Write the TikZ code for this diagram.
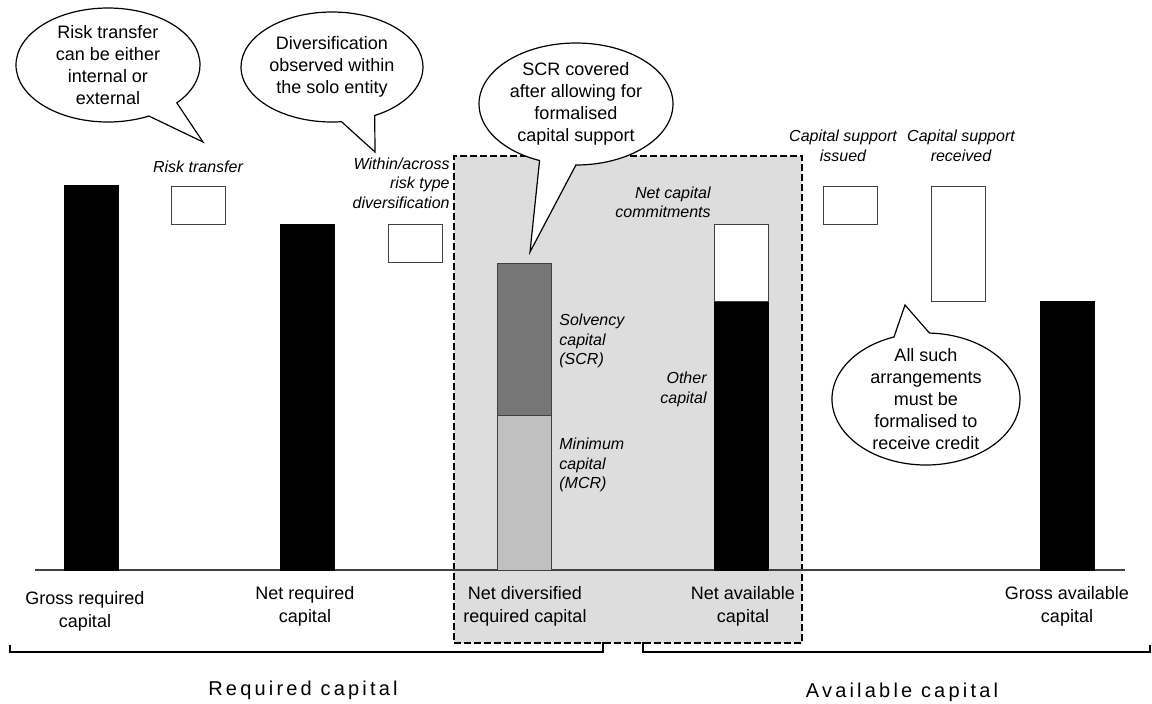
\documentclass[tikz,border=0pt]{standalone}
\usepackage{fontspec}
\setmainfont{Liberation Sans}
\newfontfamily\spacedsans[LetterSpace=16]{Liberation Sans}
\usetikzlibrary{shapes.callouts}
\definecolor{boxgrey}{HTML}{DDDDDD}
\definecolor{scrgrey}{HTML}{777777}
\definecolor{mcrgrey}{HTML}{C0C0C0}
\definecolor{edgegrey}{HTML}{404040}
\tikzset{
  bar/.style={minimum width=27pt, inner sep=0pt, outer sep=0pt, anchor=south, line width=0.5pt},
  fullbar/.style={bar, fill=black, draw=black},
  emptybar/.style={bar, fill=white, draw=edgegrey},
  note/.style={font=\fontsize{8}{9.75}\selectfont\itshape, inner sep=0pt},
  caption/.style={font=\fontsize{9}{11.5}\selectfont, align=center, inner sep=0pt},
  bubble/.style={ellipse callout, draw, fill=white, line width=0.6pt, align=center,
    inner xsep=0pt, inner ysep=-3pt, callout pointer arc=22, font=\fontsize{9}{11}\selectfont}
}
\begin{document}
\begin{tikzpicture}[x=0.5pt, y=-0.5pt]
\useasboundingbox (0,0) rectangle (1152,703);
\node[fill=boxgrey, draw, line width=1pt, dash pattern=on 3.5pt off 1.5pt,
  minimum width=174pt, minimum height=243.5pt, anchor=north west] (netbox) at (453,155) {};
\coordinate (axisL) at (35,570);
\coordinate (axisR) at (1125,570);
\draw[edgegrey, line width=0.6pt] (axisL) -- (axisR);

\node[fullbar, minimum height=192.5pt] (grossreq) at (91,570) {};
\node[emptybar, minimum height=19pt] (risktr) at (198.5,224) {};
\node[fullbar, minimum height=173pt] (netreq) at (307,570) {};
\node[emptybar, minimum height=19pt] (withindiv) at (415.5,262) {};
\node[bar, fill=mcrgrey, draw=edgegrey, minimum height=77.5pt] (mcr) at (524.5,570) {};
\node[bar, fill=scrgrey, draw=edgegrey, minimum height=76pt] (scr) at (mcr.north) {};
\node[fullbar, minimum height=134.5pt] (othercap) at (741.5,570) {};
\node[emptybar, minimum height=38.5pt] (commit) at (othercap.north) {};
\node[emptybar, minimum height=19pt] (issued) at (850,224) {};
\node[emptybar, minimum height=57.5pt] (received) at (958.5,301) {};
\node[fullbar, minimum height=134.5pt] (grossavl) at (1067,570) {};

\node[note, align=center] (risktrtxt) at (198,167) {Risk transfer};
\node[note, align=right, anchor=east] (divtxt) at (450,183) {Within/across\\risk type\\diversification};
\node[note, align=right, anchor=east] (committxt) at (711,202.5) {Net capital\\commitments};
\node[note, align=left, anchor=west] (scrtxt) at (559,341) {Solvency\\capital\\(SCR)};
\node[note, align=left, anchor=west] (mcrtxt) at (559,465) {Minimum\\capital\\(MCR)};
\node[note, align=right, anchor=east] (othertxt) at (707,389.5) {Other\\capital};
\node[note, align=center] (issuedtxt) at (843,146) {Capital support\\issued};
\node[note, align=center] (receivedtxt) at (961,146) {Capital support\\received};

\node[caption] (grossreqcap) at (85,611) {Gross required\\capital};
\node[caption] (netreqcap) at (305,606) {Net required\\capital};
\node[caption] (netdivcap) at (525,606) {Net diversified\\required capital};
\node[caption] (netavlcap) at (743,606) {Net available\\capital};
\node[caption] (grossavlcap) at (1067,606) {Gross available\\capital};

\coordinate (reqL) at (10,645);
\coordinate (reqR) at (603,642);
\coordinate (avlL) at (643,642);
\coordinate (avlR) at (1150,645);
\draw[line width=1pt] (reqL) -- ++(0,7) -| (reqR);
\draw[line width=1pt] (avlL) -- ++(0,10) -| (avlR);
\node[font=\spacedsans\fontsize{10}{12}\selectfont] (reqgroup) at (303,690) {Required capital};
\node[font=\spacedsans\fontsize{10}{12}\selectfont] (avlgroup) at (902,692) {Available capital};

\coordinate (tipRT) at (203,142);
\coordinate (tipDV) at (375,152);
\coordinate (tipSCR) at (530,252);
\coordinate (tipCS) at (905,305);
\node[bubble, minimum width=92pt, minimum height=57pt, callout absolute pointer={(tipRT)}]
  (bubRT) at (108,65) {Risk transfer\\can be either\\internal or\\external};
\node[bubble, minimum width=91pt, minimum height=55pt, callout absolute pointer={(tipDV)}]
  (bubDV) at (332,67) {Diversification\\observed within\\the solo entity};
\node[bubble, minimum width=97pt, minimum height=61pt, callout absolute pointer={(tipSCR)}]
  (bubSCR) at (576,104) {SCR covered\\after allowing for\\formalised\\capital support};
\node[bubble, minimum width=94pt, minimum height=66pt, callout absolute pointer={(tipCS)}]
  (bubCS) at (926,399) {All such\\arrangements\\must be\\formalised to\\receive credit};
\end{tikzpicture}
\end{document}
